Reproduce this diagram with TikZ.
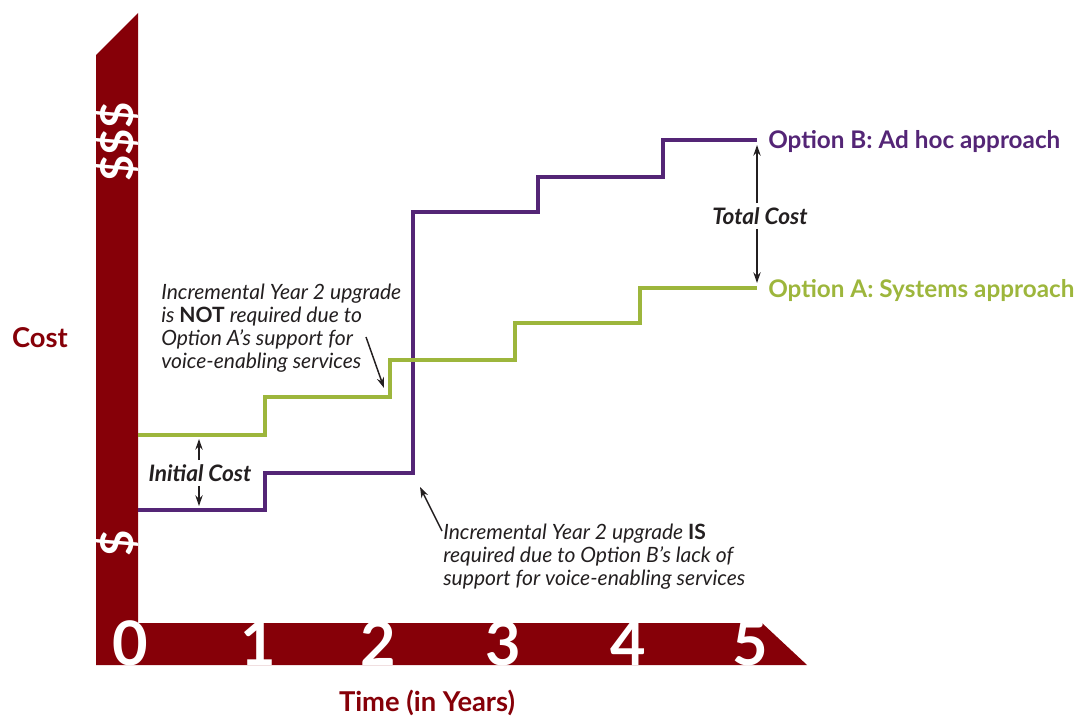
\documentclass[tikz,border=0pt]{standalone}
\usepackage{fontspec}
\setmainfont{Lato}
\usetikzlibrary{arrows.meta}

\definecolor{axisred}{RGB}{134,0,8}
\definecolor{optBpurple}{RGB}{84,37,118}
\definecolor{optAgreen}{RGB}{157,182,60}
\definecolor{notegray}{RGB}{35,31,32}

\tikzset{
  costarrow/.style={-{Stealth[length=8pt,width=5.5pt]}, line width=1.1pt, notegray},
  costline/.style={line width=3pt, line join=miter},
  notetext/.style={font=\itshape\fontsize{15.8}{17.2}\selectfont, text=notegray, align=left, inner sep=0pt, anchor=north west},
  costtag/.style={font=\bfseries\itshape\fontsize{17}{19}\selectfont, text=notegray, inner sep=3pt},
  yeartag/.style={font=\bfseries\fontsize{46}{46}\selectfont, text=white, anchor=base, inner sep=0pt},
  dollartag/.style={font=\bfseries\fontsize{34}{34}\selectfont, text=white, rotate=90, inner sep=0pt},
  axistitle/.style={font=\bfseries\fontsize{20.5}{23}\selectfont, text=axisred},
  optiontag/.style={font=\bfseries\fontsize{18.2}{20}\selectfont, anchor=west, inner sep=0pt},
}

\begin{document}
\begin{tikzpicture}[x=0.75pt, y=-0.75pt]
\useasboundingbox (0,0) rectangle (1080,717);
  % Draw axes
  \fill[axisred] (96,55) -- (138,13) -- (138,623) -- (762,623) -- (807,665) -- (96,665) -- cycle;
  \begin{scope}
    \clip (96,13) rectangle (138,623);
    \node[dollartag] (dollarhigh) at (117,142) {\$\$\$};
    \node[dollartag] (dollarlow) at (117,543) {\$};
  \end{scope}
  \foreach \yr/\x in {0/130,1/258,2/378,3/503,4/628,5/750}
    \node[yeartag] (year\yr) at (\x,665) {\yr};
  \node[axistitle] (costtitle) at (40,338) {Cost};
  \node[axistitle] (timetitle) at (427,703) {Time (in Years)};

  % Draw cost steps
  \draw[costline, optBpurple]
    (138,510) -- (265,510)
    -- (265,473) -- (413,473)
    -- (413,212) -- (538,212)
    -- (538,177) -- (663,177)
    -- (663,140) -- (757,140);
  \draw[costline, optAgreen]
    (138,435) -- (265,435)
    -- (265,397) -- (390,397)
    -- (390,360) -- (515,360)
    -- (515,323) -- (640,323)
    -- (640,288) -- (757,288);
  \node[optiontag, optBpurple] (optB) at (768,142) {Option B: Ad hoc approach};
  \node[optiontag, optAgreen] (optA) at (768,291) {Option A: Systems approach};

  % Cost gaps
  \node[costtag] (initcost) at (200,473) {Initial Cost};
  \coordinate (initA) at (199,439);
  \coordinate (initB) at (199,506);
  \draw[costarrow] (initcost.north -| initA) -- (initA);
  \draw[costarrow] (initcost.south -| initB) -- (initB);

  \node[costtag] (totalcost) at (760,216) {Total Cost};
  \coordinate (totalB) at (757,145);
  \coordinate (totalA) at (757,283);
  \draw[costarrow] (totalcost.north -| totalB) -- (totalB);
  \draw[costarrow] (totalcost.south -| totalA) -- (totalA);

  % Year 2 notes
  \node[notetext] (noteA) at (161,284) {Incremental Year 2 upgrade\\is {\upshape\bfseries NOT} required due to\\Option A’s support for\\voice-enabling services};
  \coordinate (noteAtail) at (366,337);
  \coordinate (stepAtip) at (384,388);
  \draw[costarrow] (noteAtail) -- (stepAtip);

  \node[notetext] (noteB) at (443,524) {Incremental Year 2 upgrade {\upshape\bfseries IS}\\required due to Option B’s lack of\\support for voice-enabling services};
  \coordinate (noteBtail) at (442,531);
  \coordinate (stepBtip) at (420,487);
  \draw[costarrow] (noteBtail) -- (stepBtip);
\end{tikzpicture}
\end{document}
